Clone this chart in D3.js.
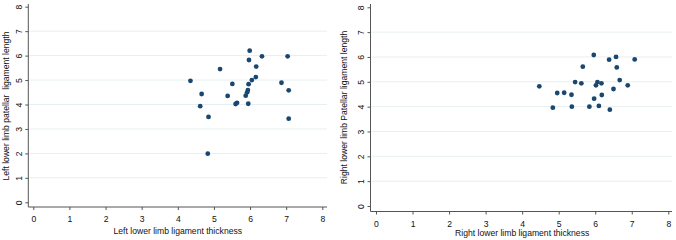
<!DOCTYPE html>
<html lang="en">
<head>
<meta charset="UTF-8">
<script src="https://d3js.org/d3.v7.min.js"></script>
<style>
  html, body { margin: 0; padding: 0; background: #fff; }
  body { font-family: "Liberation Sans", Arial, sans-serif; }
  .tick text { font-size: 8.6px; fill: #111; }
  .title { font-size: 8.6px; fill: #111; }
</style>
</head>
<body>
<div id="chart"></div>
<script>
// values
const leftThickness = [5.99, 6.33, 7.04, 5.97, 6.17, 5.17, 4.35, 6.16, 6.05, 6.87, 5.51, 5.96, 5.94,
                       7.07, 5.92, 4.66, 5.38, 5.88, 5.64, 5.60, 5.95, 4.62, 4.85, 7.07, 4.83];
const leftLength    = [6.20, 5.97, 5.97, 5.82, 5.55, 5.45, 4.97, 5.12, 5.00, 4.89, 4.84, 4.83, 4.59,
                       4.58, 4.50, 4.43, 4.35, 4.36, 4.07, 4.02, 4.03, 3.93, 3.49, 3.42, 1.99];

const rightThickness = [5.96, 6.57, 6.38, 7.08, 5.66, 6.59, 4.47, 5.45, 5.62, 6.06, 6.02, 6.17, 6.67,
                        6.89, 6.50, 4.96, 5.15, 5.35, 6.18, 5.97, 4.84, 5.36, 5.84, 6.10, 6.40];
const rightLength    = [6.08, 6.00, 5.89, 5.90, 5.61, 5.58, 4.82, 4.99, 4.94, 4.99, 4.86, 4.94, 5.07,
                        4.86, 4.71, 4.55, 4.56, 4.48, 4.47, 4.32, 3.96, 4.00, 4.00, 4.03, 3.88];

const xTicks = [0, 1, 2, 3, 4, 5, 6, 7, 8];
const yTicks = [0, 1, 2, 3, 4, 5, 6, 7, 8];
const gridTicks = [1, 2, 3, 4, 5, 6, 7];

const svg = d3.select("#chart").append("svg")
    .attr("width", 676)
    .attr("height", 240);

const dotColor = "#1a476f";
const axisColor = "#555";

function drawPanel(p) {
    const x = d3.scaleLinear().domain([0, 8]).range([p.x0, p.x1]);
    const y = d3.scaleLinear().domain([0, 8]).range([p.y0, p.y1]);

    const g = svg.append("g");

    // grid
    g.selectAll(".grid")
        .data(gridTicks)
        .enter().append("line")
        .attr("x1", p.axisX + 1)
        .attr("x2", p.gridRight)
        .attr("y1", d => y(d))
        .attr("y2", d => y(d))
        .attr("stroke", "#e6eff1")
        .attr("stroke-width", 1);

    // axes
    const xAxis = g.append("g")
        .attr("transform", `translate(0,${p.axisY})`)
        .call(d3.axisBottom(x).tickValues(xTicks).tickSize(3).tickPadding(6).tickSizeOuter(0));
    xAxis.select(".domain").remove();
    xAxis.selectAll(".tick line").attr("stroke", axisColor);

    const yAxis = g.append("g")
        .attr("transform", `translate(${p.axisX},0)`)
        .call(d3.axisLeft(y).tickValues(yTicks).tickSize(3).tickSizeOuter(0));
    yAxis.select(".domain").remove();
    yAxis.selectAll(".tick line").attr("stroke", axisColor);
    yAxis.selectAll(".tick text")
        .attr("x", 0)
        .attr("dy", 0)
        .attr("text-anchor", "middle")
        .attr("transform", "translate(-6.3,0) rotate(-90)");

    g.append("line")
        .attr("x1", p.axisX).attr("x2", p.axisX)
        .attr("y1", p.axisTop).attr("y2", p.axisY)
        .attr("stroke", axisColor);
    g.append("line")
        .attr("x1", p.axisX).attr("x2", p.gridRight)
        .attr("y1", p.axisY).attr("y2", p.axisY)
        .attr("stroke", axisColor);

    // points
    g.selectAll(".dot")
        .data(p.xs.map((v, i) => ({x: v, y: p.ys[i]})))
        .enter().append("circle")
        .attr("cx", d => x(d.x))
        .attr("cy", d => y(d.y))
        .attr("r", 2.4)
        .attr("fill", dotColor);

    // titles
    g.append("text")
        .attr("class", "title")
        .attr("x", (p.x0 + p.x1) / 2)
        .attr("y", p.xTitleY)
        .attr("text-anchor", "middle")
        .text(p.xTitle);

    g.append("text")
        .attr("class", "title")
        .attr("text-anchor", "middle")
        .attr("transform", `translate(${p.yTitleX},${p.yTitleMid}) rotate(-90)`)
        .style("white-space", "pre")
        .text(p.yTitle);
}

drawPanel({
    xs: leftThickness, ys: leftLength,
    x0: 33.3, x1: 322.3, y0: 202.3, y1: 6.7,
    axisX: 28.3, axisY: 207, axisTop: 4, gridRight: 327,
    xTitleY: 234, yTitleX: 8.5, yTitleMid: 106,
    xTitle: "Left lower limb ligament thickness",
    yTitle: "Left lower limb patellar  ligament length"
});

drawPanel({
    xs: rightThickness, ys: rightLength,
    x0: 376, x1: 668.3, y0: 206, y1: 7.3,
    axisX: 370.5, axisY: 211.5, axisTop: 4, gridRight: 672,
    xTitleY: 236, yTitleX: 347, yTitleMid: 107.5,
    xTitle: "Right lower limb ligament thickness",
    yTitle: "Right lower limb Patellar ligament length"
});
</script>
</body>
</html>
